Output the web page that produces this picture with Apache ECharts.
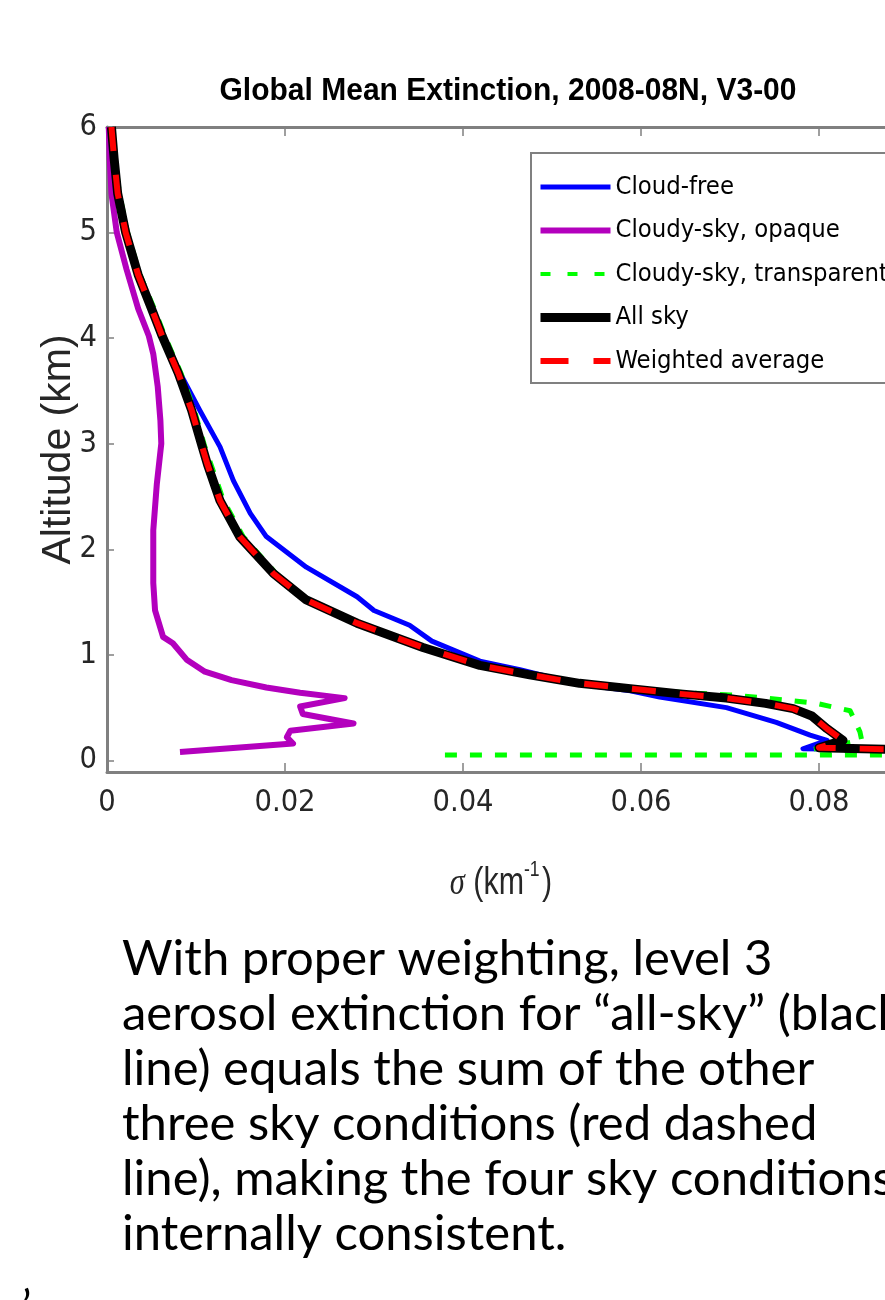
<!DOCTYPE html>
<html>
<head>
<meta charset="utf-8">
<script src="https://cdn.jsdelivr.net/npm/echarts@6/dist/echarts.min.js"></script>
<style>
html,body{margin:0;padding:0;background:#ffffff;}
#main{width:885px;height:1300px;}
</style>
</head>
<body>
<div id="main"></div>
<script>
// ---------- data (extinction km^-1, altitude km) ----------
const seriesNames = ['Cloud-free', 'Cloudy-sky, opaque', 'Cloudy-sky, transparent', 'All sky', 'Weighted average'];
const xTickValues = [0, 0.02, 0.04, 0.06, 0.08, 0.1];
const yTickValues = [0, 1, 2, 3, 4, 5, 6];

const cloudFree = [
  [0.0005,6.00],[0.0008,5.70],[0.0012,5.37],[0.0021,5.00],[0.0035,4.60],[0.0050,4.28],
  [0.0063,4.02],[0.0082,3.67],[0.0104,3.32],[0.0127,2.97],[0.0142,2.65],[0.0161,2.34],
  [0.0179,2.12],[0.0224,1.83],[0.0281,1.55],[0.0300,1.42],[0.0340,1.28],[0.0365,1.13],
  [0.0419,0.94],[0.0464,0.86],[0.0531,0.72],[0.0588,0.66],[0.0621,0.60],[0.0696,0.50],
  [0.0752,0.36],[0.0790,0.24],[0.0809,0.19],[0.0782,0.11],[0.0960,0.09]
];
const cloudyOpaque = [
  [0.0002,6.00],[0.0003,5.70],[0.0005,5.37],[0.0011,5.00],[0.0022,4.65],[0.0035,4.28],
  [0.0047,4.02],[0.0052,3.85],[0.0057,3.54],[0.0060,3.22],[0.0061,3.00],[0.0056,2.62],
  [0.0052,2.18],[0.0052,1.68],[0.0054,1.42],[0.0063,1.17],[0.0074,1.11],[0.0090,0.95],
  [0.0110,0.84],[0.0140,0.76],[0.0179,0.69],[0.0217,0.64],[0.0267,0.59],[0.0217,0.51],
  [0.0220,0.44],[0.0277,0.35],[0.0206,0.28],[0.0202,0.22],[0.0209,0.16],[0.0082,0.08]
];
const cloudyTransparent = [
  [0.0005,6.00],[0.0009,5.70],[0.0014,5.37],[0.0023,5.00],[0.0037,4.60],[0.0053,4.28],
  [0.0065,4.02],[0.0083,3.67],[0.0098,3.32],[0.0110,2.97],[0.0117,2.80],[0.0131,2.46],
  [0.0153,2.12],[0.0190,1.77],[0.0226,1.52],[0.0283,1.30],[0.0356,1.07],[0.0420,0.90],
  [0.0476,0.81],[0.0533,0.73],[0.0590,0.68],[0.0650,0.64],[0.0700,0.62],[0.0741,0.59],
  [0.0797,0.54],[0.0835,0.47],[0.0846,0.27],[0.0848,0.19],[0.0790,0.10],[0.1100,0.09],
  [0.1100,0.05],[0.0370,0.05]
];
const allSky = [
  [0.0005,6.00],[0.0008,5.70],[0.0012,5.37],[0.0021,5.00],[0.0035,4.60],[0.0050,4.28],
  [0.0062,4.02],[0.0080,3.67],[0.0095,3.32],[0.0107,2.97],[0.0113,2.80],[0.0127,2.46],
  [0.0149,2.12],[0.0187,1.77],[0.0224,1.52],[0.0281,1.30],[0.0355,1.07],[0.0419,0.90],
  [0.0475,0.81],[0.0531,0.73],[0.0588,0.68],[0.0644,0.63],[0.0696,0.59],[0.0740,0.54],
  [0.0771,0.49],[0.0792,0.42],[0.0809,0.30],[0.0827,0.19],[0.0800,0.12],[0.0960,0.09]
];
const weightedAverage = [
  [0.0005,6.00],[0.0008,5.70],[0.0012,5.37],[0.0021,5.00],[0.0035,4.60],[0.0050,4.28],
  [0.0062,4.02],[0.0080,3.67],[0.0095,3.32],[0.0107,2.97],[0.0113,2.80],[0.0127,2.46],
  [0.0149,2.12],[0.0187,1.77],[0.0224,1.52],[0.0281,1.30],[0.0355,1.07],[0.0419,0.90],
  [0.0475,0.81],[0.0531,0.73],[0.0588,0.68],[0.0644,0.63],[0.0696,0.59],[0.0740,0.54],
  [0.0771,0.49],[0.0792,0.42],[0.0809,0.30],[0.0827,0.19],[0.0800,0.12],[0.0960,0.09]
];

const titleText = 'Global Mean Extinction, 2008-08N, V3-00';
const yAxisTitle = 'Altitude (km)';
const captionLines = [
  'With proper weighting, level 3',
  'aerosol extinction for \u201call-sky\u201d (black',
  'line) equals the sum of the other',
  'three sky conditions (red dashed',
  'line), making the four sky conditions',
  'internally consistent.'
];

// ---------- styling ----------
const COND = '"DejaVu Sans Condensed", "Liberation Sans", sans-serif';
const REG = '"Liberation Sans", Arial, sans-serif';
const CAP = 'Lato, "Open Sans", sans-serif';
const AX = '#808080';
const TXT = '#262626';

const cv = document.createElement('canvas').getContext('2d');
function measure(text, font) { cv.font = font; return cv.measureText(text).width; }
// font sizes fitted to the reference text widths
const capSize = Math.round(100 * 650 / measure(captionLines[0], '100px Lato') * 10) / 10;
const legendSize = Math.round(100 * 272 / measure('Cloudy-sky, transparent', '100px "DejaVu Sans Condensed"') * 10) / 10;
const tickSize = Math.round(100 * 61 / measure('0.02', '100px "DejaVu Sans Condensed"') * 10) / 10;
const titleScale = 577 / measure(titleText, 'bold 31px "Liberation Sans"');

const chart = echarts.init(document.getElementById('main'), null, {renderer: 'canvas'});

const colors = ['#0000ff', '#b300bd', '#00ff00', '#000000', '#ff0000'];
const widths = [5, 6, 5, 9, 6];
const legendWidths = [5, 6, 4, 9, 6];
const dashes = ['solid', 'solid', [12, 13], 'solid', [24, 24]];
const legendDashes = ['solid', 'solid', [10, 17], 'solid', [28, 25]];
const datasets = [cloudFree, cloudyOpaque, cloudyTransparent, allSky, weightedAverage];

const graphics = [
  { type: 'text', x: 508, y: 91, z: 10, scaleX: titleScale, scaleY: 1,
    style: { text: titleText, font: 'bold 31px "Liberation Sans"', fill: '#000', align: 'center', verticalAlign: 'middle' } },
  { type: 'text', x: 501, y: 881, z: 10, scaleX: 0.8, scaleY: 1,
    style: {
      text: '{s|\u03c3}{n| (km}{sup|-1}{n|)}',
      align: 'center', verticalAlign: 'middle', fill: TXT,
      rich: {
        s: { fontFamily: '"Liberation Serif", serif', fontStyle: 'italic', fontSize: 38, fill: TXT, lineHeight: 44, verticalAlign: 'bottom' },
        n: { fontFamily: REG, fontSize: 38, fill: TXT, lineHeight: 44, verticalAlign: 'bottom' },
        sup: { fontFamily: REG, fontSize: 22, fill: TXT, lineHeight: 44, verticalAlign: 'top', padding: [0, 3, 0, 0] }
      }
    } },
  { type: 'text', x: 22, y: 1286, z: 10,
    style: { text: '\u2019', font: '44px ' + CAP, fill: '#000', align: 'left', verticalAlign: 'top' } }
];
captionLines.forEach(function (line, i) {
  graphics.push({
    type: 'text', x: 122, y: 975 + 55 * i - 0.32 * capSize, z: 10,
    style: { text: line, font: capSize + 'px ' + CAP, fill: '#000', align: 'left', verticalAlign: 'middle' }
  });
});

const axisCommon = {
  type: 'value', min: 0, max: 0.1, interval: 0.02,
  axisLine: { show: true, onZero: false, lineStyle: { color: AX, width: 3 } },
  axisTick: { show: true, inside: true, length: 9, lineStyle: { color: AX, width: 1.5 } },
  splitLine: { show: false }
};

const option = {
  animation: false,
  backgroundColor: '#ffffff',
  grid: { left: 107, top: 127, width: 890, height: 645, containLabel: false, outerBoundsMode: 'none' },
  xAxis: [
    Object.assign({}, axisCommon, {
      position: 'bottom',
      axisLabel: { show: true, margin: 16, fontFamily: COND, fontSize: tickSize, color: TXT,
        customValues: xTickValues }
    }),
    Object.assign({}, axisCommon, {
      position: 'top',
      axisLabel: { show: false }
    })
  ],
  yAxis: [
    {
      type: 'value', min: -0.11, max: 6,
      name: yAxisTitle, nameLocation: 'middle', nameGap: 28, nameRotate: 90, nameMoveOverlap: false,
      nameTextStyle: { fontFamily: REG, fontSize: 41, color: TXT },
      axisLine: { show: true, onZero: false, lineStyle: { color: AX, width: 3 } },
      axisTick: { show: true, inside: true, length: 7, lineStyle: { color: AX, width: 1.5 },
        customValues: yTickValues },
      axisLabel: { show: true, margin: 10, fontFamily: COND, fontSize: tickSize, color: TXT,
        customValues: yTickValues },
      splitLine: { show: false }
    }
  ],
  legend: {
    orient: 'vertical', left: 531, top: 153,
    padding: [19, 14, 7, 5],
    itemWidth: 70, itemHeight: 1, itemGap: 13.5,
    borderColor: AX, borderWidth: 2, backgroundColor: '#ffffff',
    textStyle: { fontFamily: COND, fontSize: legendSize, color: '#000', lineHeight: 30 },
    selectedMode: false,
    data: seriesNames.map(function (n, i) {
      return {
        name: n,
        itemStyle: { color: 'rgba(0,0,0,0)', borderWidth: 0, opacity: 0 },
        lineStyle: { width: legendWidths[i], type: legendDashes[i], color: colors[i], opacity: 1 }
      };
    })
  },
  graphic: graphics,
  series: seriesNames.map(function (n, i) {
    return {
      name: n, type: 'line', data: datasets[i],
      showSymbol: false, symbol: 'none', smooth: false, clip: true,
      color: colors[i],
      lineStyle: { color: colors[i], width: widths[i], type: dashes[i], cap: 'butt', join: 'round' },
      z: 2 + i
    };
  })
};
chart.setOption(option);
</script>
</body>
</html>
